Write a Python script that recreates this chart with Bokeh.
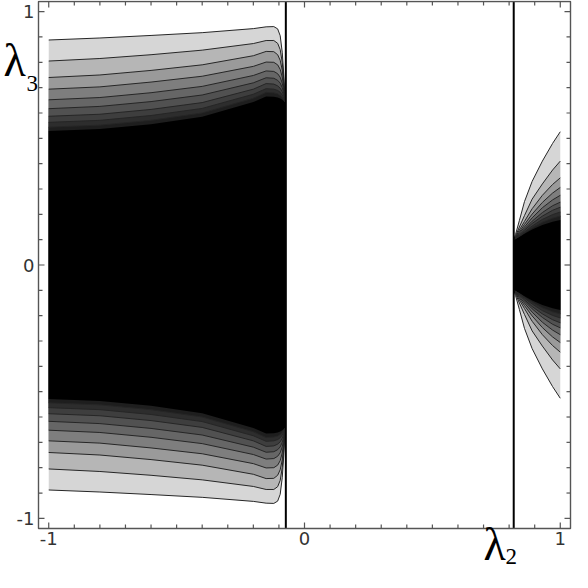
from bokeh.plotting import figure
from bokeh.models import Range1d
from bokeh.core.properties import value
from bokeh.embed import file_html
from bokeh.resources import INLINE

# ---- data ----
major_ticks = [-1, 0, 1]
major_labels = ["-1", "0", "1"]
minor_ticks = [-0.9, -0.8, -0.7, -0.6, -0.5, -0.4, -0.3, -0.2, -0.1,
               0.1, 0.2, 0.3, 0.4, 0.5, 0.6, 0.7, 0.8, 0.9]

# plotted window (frame) in data units
frame_lo, frame_hi = -1.04, 1.04

# singular lines (vertical)
walls = [-0.073, 0.818]

# left lobe: upper contour lines (mirrored for the lower half)
left_x = [-1.0, -0.8, -0.6, -0.4, -0.2, -0.15, -0.12, -0.105, -0.095, -0.087, -0.081, -0.076]
left_c1 = [0.888, 0.896, 0.906, 0.917, 0.933, 0.940, 0.941, 0.932, 0.905, 0.840, 0.750, 0.645]
left_c2 = [0.805, 0.815, 0.830, 0.848, 0.874, 0.886, 0.886, 0.875, 0.850, 0.800, 0.730, 0.645]
left_c3 = [0.740, 0.750, 0.768, 0.790, 0.826, 0.843, 0.842, 0.830, 0.808, 0.770, 0.715, 0.645]
left_c4 = [0.694, 0.703, 0.722, 0.745, 0.784, 0.801, 0.800, 0.790, 0.772, 0.742, 0.700, 0.645]
left_c5 = [0.652, 0.661, 0.680, 0.705, 0.748, 0.766, 0.764, 0.755, 0.741, 0.718, 0.687, 0.645]
left_c6 = [0.617, 0.626, 0.645, 0.671, 0.719, 0.739, 0.737, 0.729, 0.718, 0.700, 0.676, 0.645]
left_c7 = [0.587, 0.595, 0.614, 0.641, 0.694, 0.716, 0.714, 0.707, 0.698, 0.684, 0.667, 0.645]
left_c8 = [0.563, 0.571, 0.590, 0.618, 0.674, 0.696, 0.694, 0.689, 0.682, 0.671, 0.659, 0.645]
left_c9 = [0.544, 0.552, 0.571, 0.600, 0.658, 0.681, 0.679, 0.675, 0.669, 0.661, 0.652, 0.645]
left_c10 = [0.529, 0.537, 0.556, 0.585, 0.643, 0.665, 0.664, 0.661, 0.657, 0.652, 0.647, 0.645]

# right lobe: upper contour lines (mirrored for the lower half)
right_x = [0.818, 0.825, 0.84, 0.86, 0.89, 0.93, 0.97, 1.0]
right_c1 = [0.10, 0.120, 0.175, 0.250, 0.330, 0.410, 0.480, 0.526]
right_c2 = [0.10, 0.113, 0.150, 0.195, 0.260, 0.320, 0.375, 0.410]
right_c3 = [0.10, 0.110, 0.138, 0.172, 0.222, 0.275, 0.318, 0.344]
right_c4 = [0.10, 0.108, 0.130, 0.160, 0.201, 0.247, 0.284, 0.306]
right_c5 = [0.10, 0.107, 0.125, 0.150, 0.186, 0.226, 0.257, 0.275]
right_c6 = [0.10, 0.106, 0.121, 0.142, 0.173, 0.207, 0.234, 0.248]
right_c7 = [0.10, 0.105, 0.118, 0.137, 0.164, 0.193, 0.216, 0.228]
right_c8 = [0.10, 0.104, 0.115, 0.131, 0.154, 0.180, 0.199, 0.209]
right_c9 = [0.10, 0.104, 0.113, 0.127, 0.147, 0.169, 0.185, 0.193]
right_c10 = [0.10, 0.103, 0.111, 0.123, 0.140, 0.158, 0.171, 0.178]

band_colors = ["#d6d6d6", "#b6b6b6", "#9a9a9a", "#7e7e7e", "#666666",
               "#515151", "#3e3e3e", "#2d2d2d", "#1e1e1e", "#000000"]

left_lines = [left_c1, left_c2, left_c3, left_c4, left_c5,
              left_c6, left_c7, left_c8, left_c9, left_c10]
right_lines = [right_c1, right_c2, right_c3, right_c4, right_c5,
               right_c6, right_c7, right_c8, right_c9, right_c10]

# ---- layout: the canvas is the data area; the frame is drawn inside it ----
W = H = 572
frame_left_px, frame_w_px = 38, 532      # canvas px
frame_top_px, frame_h_px = 1, 527
sx = frame_w_px / (frame_hi - frame_lo)
sy = frame_h_px / (frame_hi - frame_lo)
x0 = frame_lo - frame_left_px / sx
y1 = frame_hi + frame_top_px / sy

p = figure(width=W, height=H,
           x_range=Range1d(x0, x0 + W / sx), y_range=Range1d(y1 - H / sy, y1),
           output_backend="svg", toolbar_location=None,
           x_axis_type=None, y_axis_type=None,
           min_border=0, min_border_left=0, min_border_right=0,
           min_border_top=0, min_border_bottom=0)
p.grid.visible = False
p.outline_line_color = None
p.background_fill_color = "white"
p.border_fill_color = "white"

line_col = "#262626"
for xs_top, lines in ((left_x, left_lines), (right_x, right_lines)):
    for k, ys in enumerate(lines):
        xs = xs_top + xs_top[::-1]
        yy = ys + [-v for v in ys[::-1]]
        p.patch(xs, yy, fill_color=band_colors[k], line_color=None)
    for k, ys in enumerate(lines):
        if k == len(lines) - 1:
            continue
        p.line(xs_top, ys, line_color=line_col, line_width=1)
        p.line(xs_top, [-v for v in ys], line_color=line_col, line_width=1)

# vertical singular lines
p.segment(x0=walls, y0=[frame_lo] * len(walls), x1=walls, y1=[frame_hi] * len(walls),
          line_color="black", line_width=2)

# frame ticks on all four sides (pointing inward)
tick_col = "#555555"
minor_len_x = 4 / sy
minor_len_y = 4 / sx
major_len_x = 6 / sy
major_len_y = 6 / sx
for ticks, lx, ly in ((minor_ticks, minor_len_x, minor_len_y), (major_ticks, major_len_x, major_len_y)):
    n = len(ticks)
    p.segment(x0=ticks, y0=[frame_lo] * n, x1=ticks, y1=[frame_lo + lx] * n,
              line_color=tick_col, line_width=1.2)
    p.segment(x0=ticks, y0=[frame_hi] * n, x1=ticks, y1=[frame_hi - lx] * n,
              line_color=tick_col, line_width=1.2)
    p.segment(x0=[frame_lo] * n, y0=ticks, x1=[frame_lo + ly] * n, y1=ticks,
              line_color=tick_col, line_width=1.2)
    p.segment(x0=[frame_hi] * n, y0=ticks, x1=[frame_hi - ly] * n, y1=ticks,
              line_color=tick_col, line_width=1.2)

# frame box
p.quad(left=[frame_lo], right=[frame_hi], bottom=[frame_lo], top=[frame_hi],
       fill_color=None, line_color="#555555", line_width=1.4)

# tick labels
n = len(major_ticks)
p.text(x=major_ticks, y=[frame_lo - 3 / sy] * n, text=major_labels,
       text_font=value("DejaVu Sans"), text_font_size=value("18px"),
       text_color="#333333", text_align="center", text_baseline="top")
p.text(x=[frame_lo - 4 / sx] * n, y=major_ticks, text=major_labels,
       text_font=value("DejaVu Sans"), text_font_size=value("18px"),
       text_color="#333333", text_align="right", text_baseline="middle")

# axis names (positions in canvas pixels, converted through the scales)
def px_x(cx):
    return x0 + cx / sx

def px_y(cy):
    return y1 - cy / sy

name_kw = dict(text_font=value("Liberation Serif"), text_color="black",
               text_align="left", text_baseline="middle")
p.text(x=[px_x(3), px_x(483)], y=[px_y(60), px_y(544)], text=["λ", "λ"],
       text_font_size=value("46px"), **name_kw)
p.text(x=[px_x(26), px_x(505)], y=[px_y(83), px_y(556)], text=["3", "2"],
       text_font_size=value("23px"), **name_kw)

open("out.html", "w", encoding="utf-8").write(file_html(p, INLINE))
